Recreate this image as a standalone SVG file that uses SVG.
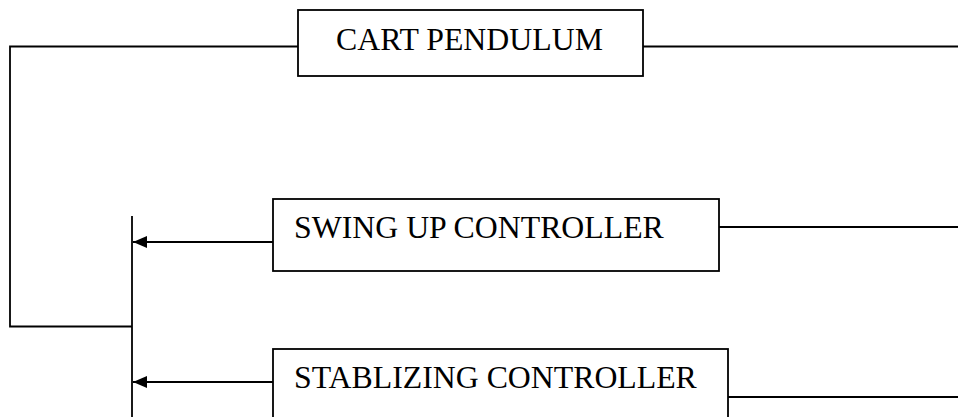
<svg xmlns="http://www.w3.org/2000/svg" width="958" height="417" viewBox="0 0 958 417">
<style>
.box{fill:#fff;stroke:#000;stroke-width:1.8}
.ln{fill:none;stroke:#000;stroke-width:1.8}
.t{font-family:"Liberation Serif","Times New Roman",serif;font-size:31.8px;fill:#000}
</style>
<defs>
<marker id="ah" markerWidth="14" markerHeight="12" refX="14" refY="6" orient="auto" markerUnits="userSpaceOnUse">
<path d="M0,0 L14,6 L0,12 Z" fill="#000"/>
</marker>
</defs>
<g id="connectors">
<path class="ln" d="M298,46.5 H10 V326.5 H132"/>
<path class="ln" d="M643,46.5 H958"/>
<path class="ln" d="M132,216 V417"/>
<path class="ln" d="M273,242 H133" marker-end="url(#ah)"/>
<path class="ln" d="M273,382 H133" marker-end="url(#ah)"/>
<path class="ln" d="M719,227 H958"/>
<path class="ln" d="M728,397 H958"/>
</g>
<g id="cart-pendulum">
<rect class="box" x="298" y="10" width="345" height="66"/>
<text class="t" x="336" y="50">CART PENDULUM</text>
</g>
<g id="swing-up-controller">
<rect class="box" x="273" y="199" width="446" height="72"/>
<text class="t" x="294" y="238">SWING UP CONTROLLER</text>
</g>
<g id="stablizing-controller">
<rect class="box" x="273" y="349" width="455" height="80"/>
<text class="t" x="294" y="388">STABLIZING CONTROLLER</text>
</g>
</svg>
